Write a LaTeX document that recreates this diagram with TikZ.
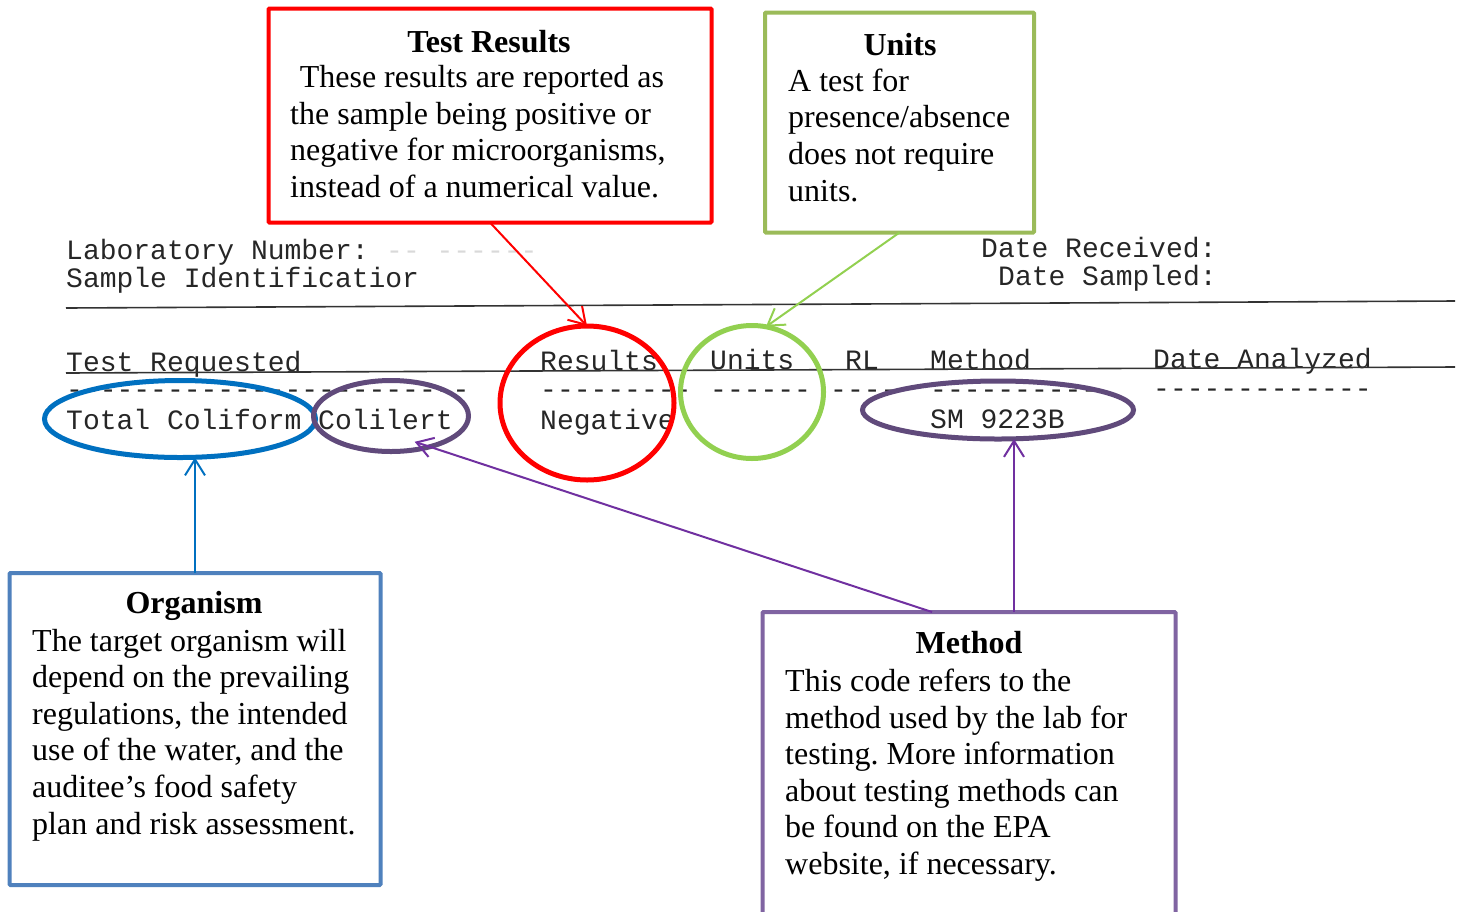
\documentclass[tikz,border=0pt]{standalone}
\usepackage{fontspec}
\setmainfont{Liberation Serif}
\newfontfamily\formfont{Liberation Mono}
\usetikzlibrary{arrows.meta,shapes.geometric}
\definecolor{cGreenBox}{HTML}{9BBB59}
\definecolor{cGreenE}{HTML}{92D050}
\definecolor{cBlueBox}{HTML}{4F81BD}
\definecolor{cBlueE}{HTML}{0070C0}
\definecolor{cPurBox}{HTML}{8064A2}
\definecolor{cPurE}{HTML}{604A7B}
\definecolor{cPurA}{HTML}{7030A0}
\frenchspacing
\begin{document}
\begin{tikzpicture}[x=1pt,y=-1pt,
  calloutbox/.style={draw, rectangle, line width=4pt, inner sep=0pt, outer sep=0pt, rounded corners=1pt, fill=white},
  ttltext/.style={font=\fontsize{32}{36.6}\selectfont\bfseries, anchor=base, inner sep=0pt},
  bodytext/.style={font=\fontsize{32}{36.6}\selectfont\frenchspacing, anchor=base west, align=left, inner sep=0pt},
  formtext/.style={font=\formfont\fontsize{28}{30}\selectfont, anchor=base west, inner sep=0pt, text=black!85},
  oval/.style={ellipse, draw, line width=5pt, inner sep=0pt, outer sep=0pt},
  callarrow/.style={-{Straight Barb[length=16pt,width=20pt]}, line width=2pt},
  formrule/.style={line width=1.6pt, black!80}
]
\useasboundingbox (0,0) rectangle (1463,911);
\clip (0,0) rectangle (1463,911);

% ---------- scanned form ----------
\node[formtext] (lab) at (66,259) {Laboratory Number:};
\node[formtext, text=black!15] (labdash) at (386,259) {-- ------};
\node[formtext] (sid) at (66,287) {Sample Identificatior};
\node[formtext] (drec) at (981,257) {Date Received:};
\node[formtext] (dsam) at (998,285) {Date Sampled:};
\draw[formrule] (66,308) -- (1455,301);

\node[formtext] (hTest) at (66,371) {Test Requested};
\node[formtext] (hRes) at (540,370) {Results};
\node[formtext] (hUnit) at (710,369) {Units};
\node[formtext] (hRL) at (845,369) {RL};
\node[formtext] (hMeth) at (930,369) {Method};
\node[formtext] (hDate) at (1153,368) {Date Analyzed};
\draw[formrule] (66,373) -- (1455,367);

\node[formtext] (d1) at (66,398) {------------------------};
\node[formtext] (d2) at (540,398) {---------};
\node[formtext] (d3) at (710,398) {------};
\node[formtext] (d4) at (830,398) {----};
\node[formtext] (d5) at (930,398) {----------};
\node[formtext] (d6) at (1153,397) {-------------};

\node[formtext] (vTC) at (66,429) {Total Coliform};
\node[formtext] (vCol) at (318,429) {Colilert};
\node[formtext] (vNeg) at (540,429) {Negative};
\node[formtext] (vSM) at (930,428) {SM 9223B};

% ---------- highlight ovals ----------
\node[oval, draw=cBlueE, minimum width=271pt, minimum height=77pt] (tcOval) at (180,419) {};
\node[oval, draw=cPurE, minimum width=155pt, minimum height=71pt] (colOval) at (391,416) {};
\node[oval, draw=red, minimum width=174pt, minimum height=154pt] (resOval) at (587,403) {};
\node[oval, draw=cGreenE, minimum width=143pt, minimum height=133pt] (unitOval) at (752,392) {};
\node[oval, draw=cPurE, minimum width=271pt, minimum height=58pt] (smOval) at (998,410) {};

% ---------- callout boxes (body nodes anchored at the baseline of their last line) ----------
\node[calloutbox, draw=red, minimum width=443pt, minimum height=214pt] (resBox) at (490,115.5) {};
\node[ttltext] (resTtl) at (489,52) {Test Results};
\node[bodytext] (resBody) at (290,197.5) {\hspace*{0.3em}These results are reported as\\the sample being positive or\\negative for microorganisms,\\instead of a numerical value.};

\node[calloutbox, draw=cGreenBox, minimum width=269pt, minimum height=220pt] (unitBox) at (899.5,122.5) {};
\node[ttltext] (unitTtl) at (900,55) {Units};
\node[bodytext] (unitBody) at (788,201) {A test for\\presence/absence\\does not require\\units.};

\node[calloutbox, draw=cBlueBox, minimum width=371pt, minimum height=312pt] (orgBox) at (195,729) {};
\node[ttltext] (orgTtl) at (194,613.3) {Organism};
\node[bodytext] (orgBody) at (32,834) {The target organism will\\depend on the prevailing\\regulations, the intended\\use of the water, and the\\auditee’s food safety\\plan and risk assessment.};

\node[calloutbox, draw=cPurBox, minimum width=413pt, minimum height=318pt] (methBox) at (969,771) {};
\node[ttltext] (methTtl) at (969,653.3) {Method};
\node[bodytext] (methBody) at (785,874.5) {This code refers to the\\method used by the lab for\\testing. More information\\about testing methods can\\be found on the EPA\\website, if necessary.};

% ---------- connectors ----------
\draw[callarrow, red] (resBox.south) -- (resOval.north);
\draw[callarrow, cGreenE] (unitBox.south) -- (unitOval.78);
\draw[callarrow, cBlueE] (orgBox.north) -- (orgBox.north |- tcOval.south);
\draw[callarrow, cPurA] ([xshift=-37pt]methBox.north) -- ([yshift=8pt]colOval.305);
\draw[callarrow, cPurA] ([xshift=45pt]methBox.north) -- ([xshift=45pt]methBox.north |- smOval.south);
\end{tikzpicture}
\end{document}
